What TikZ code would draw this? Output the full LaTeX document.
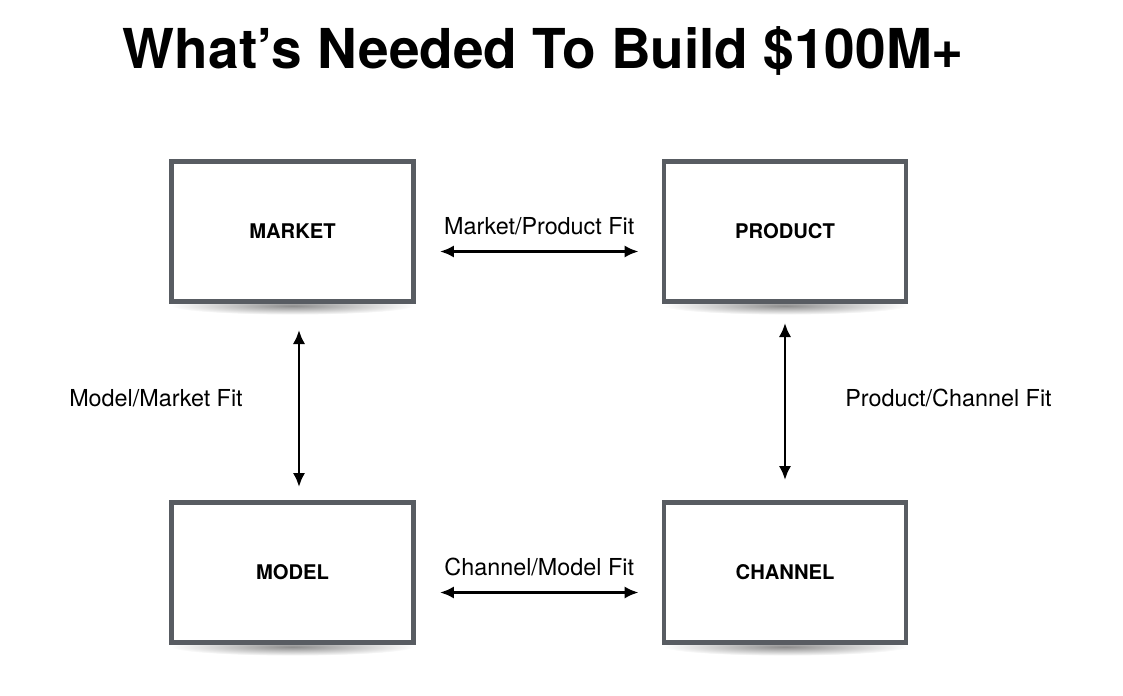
\documentclass[tikz,border=0pt]{standalone}
\usepackage{fontspec}
\setmainfont{TeX Gyre Heros}
\usetikzlibrary{arrows.meta,positioning,backgrounds}
\definecolor{boxgray}{RGB}{88,92,98}
\tikzset{
  fitbox/.style={draw=boxgray, fill=white, line width=2.8pt, minimum width=4.84cm,
    minimum height=2.8cm, font=\fontsize{11.5}{13}\selectfont\bfseries},
  fitarrow/.style={{Latex[length=8pt,width=7pt]}-{Latex[length=8pt,width=7pt]}, line width=1.5pt},
  fitlabel/.style={font=\fontsize{13.3}{15}\selectfont, inner sep=0pt}
}

\begin{document}
\begin{tikzpicture}[x=0.02cm, y=-0.02cm]
			%%%%% START %%%%%
			\useasboundingbox (0, 0) rectangle (1123, 696);

			\node[font=\fontsize{31.3}{36}\selectfont\bfseries] (title) at (543.5, 51) {What’s Needed To Build \$100M+};

			\node[fitbox] (market) at (292.5, 231.5) {MARKET};
			\node[fitbox] (product) at (785, 231.5) {PRODUCT};
			\node[fitbox] (model) at (292.5, 572.5) {MODEL};
			\node[fitbox] (channel) at (785, 572.5) {CHANNEL};

			% soft shadows under the boxes
			\begin{scope}[on background layer]
				\foreach \b in {market, product, model, channel}
					\shade[inner color=black!45, outer color=white] ([yshift=-1pt]\b.south) ellipse (122 and 9);
			\end{scope}

			\draw[fitarrow] ([shift={(24, 20)}]market.east) -- ([shift={(-23, 20)}]product.west)
				node[fitlabel, midway, above=8.5pt] (mpfit) {Market/Product Fit};
			\draw[fitarrow] ([shift={(24, 20)}]model.east) -- ([shift={(-23, 20)}]channel.west)
				node[fitlabel, midway, above=8.5pt] (cmfit) {Channel/Model Fit};

			\draw[fitarrow] ([shift={(6.5, 26)}]market.south) -- ([shift={(6.5, -13)}]model.north)
				node[fitlabel, midway, left=1.1cm, yshift=0.2cm] (mmfit) {Model/Market Fit};
			\draw[fitarrow] ([yshift=-19*0.02cm]product.south) -- ([yshift=20*0.02cm]channel.north)
				node[fitlabel, midway, right=1.18cm, yshift=0.06cm] (pcfit) {Product/Channel Fit};
			%%%%% END %%%%%
\end{tikzpicture}
\end{document}
